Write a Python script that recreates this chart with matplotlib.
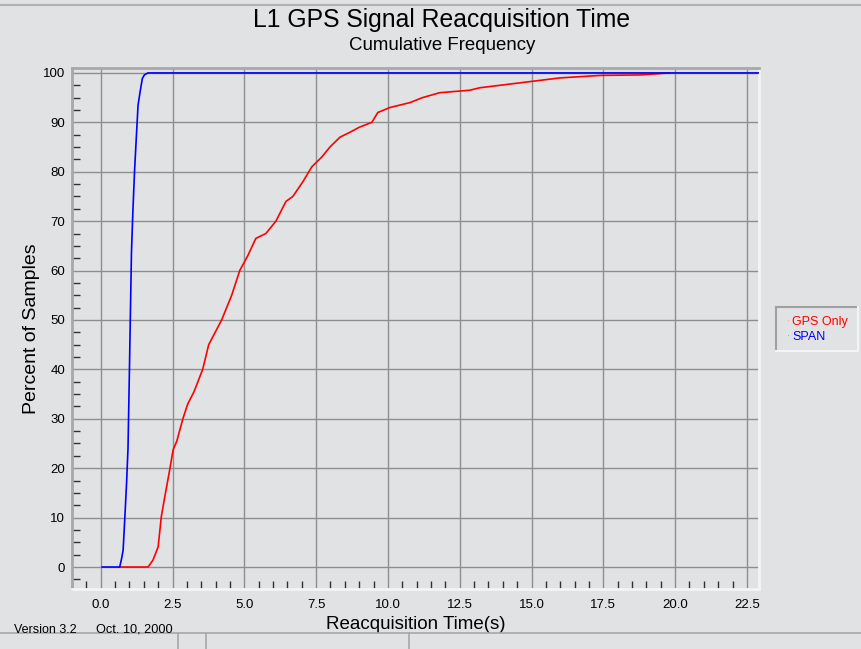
import numpy as np
import matplotlib
matplotlib.use("Agg")
import matplotlib.pyplot as plt
from matplotlib.ticker import MultipleLocator
from matplotlib.lines import Line2D

plt.rcParams['font.family'] = ['Liberation Sans', 'DejaVu Sans']

# data (seconds, percent)
span_t = [0.05, 0.66, 0.72, 0.78, 0.84, 0.90, 0.95, 1.00, 1.07, 1.12, 1.18, 1.24,
          1.30, 1.38, 1.45, 1.52, 1.64, 22.9]
span_pct = [0, 0, 1.5, 3.4, 10, 17, 24, 40, 63.6, 72, 80.4, 87,
            93.5, 96.5, 98.9, 99.6, 100, 100]

gps_t = [0.66, 1.65, 1.82, 2.00, 2.11, 2.23, 2.40, 2.52, 2.65, 2.86, 3.03, 3.25,
         3.55, 3.76, 4.21, 4.56, 4.84, 5.12, 5.40, 5.75, 6.10, 6.45, 6.69, 7.04,
         7.35, 7.70, 7.98, 8.33, 8.68, 9.00, 9.44, 9.65, 10.07, 10.77, 11.2, 11.8,
         12.85, 13.2, 13.9, 14.6, 15.3, 16.0, 17.4, 18.8, 19.8]
gps_pct = [0, 0, 1.4, 4.1, 10.2, 14.2, 19.6, 23.7, 25.5, 30, 33, 35.5,
           40, 45, 50, 55, 60, 63, 66.5, 67.5, 70, 74, 75, 78,
           81, 83, 85, 87, 88, 89, 90, 92, 93, 94, 95, 96,
           96.5, 97, 97.5, 98, 98.5, 99, 99.5, 99.6, 100]

x_ticks = [0.0, 2.5, 5.0, 7.5, 10.0, 12.5, 15.0, 17.5, 20.0, 22.5]
y_ticks = [0, 10, 20, 30, 40, 50, 60, 70, 80, 90, 100]

bg = "#e1e2e4"
fig = plt.figure(figsize=(8.61, 6.49), dpi=100)
fig.patch.set_facecolor(bg)

ax = fig.add_axes([72 / 861, 1 - 589 / 649, 687 / 861, 521 / 649])
ax.set_facecolor(bg)

ax.plot(gps_t, gps_pct, color="#ff0000", lw=1.2, zorder=3)
ax.plot(span_t, span_pct, color="#0000ff", lw=1.2, zorder=4)

ax.set_xlim(-1.0, 22.92)
ax.set_ylim(-4.45, 101)
ax.set_xticks(x_ticks)
ax.set_xticklabels([f"{v:.1f}" for v in x_ticks])
ax.set_yticks(y_ticks)
ax.xaxis.set_minor_locator(MultipleLocator(0.5))
ax.yaxis.set_minor_locator(MultipleLocator(2.5))
ax.tick_params(which="major", length=0, labelsize=9.5, pad=7, colors="#000000")
ax.tick_params(which="minor", direction="in", length=6, width=1, color="#303030")
ax.tick_params(axis="y", which="major", pad=5)
ax.grid(True, which="major", color="#8e8e8e", lw=1.0)
ax.set_axisbelow(True)

for side in ["left", "top"]:
    ax.spines[side].set_color("#a8a8a8")
    ax.spines[side].set_linewidth(2)
for side in ["right", "bottom"]:
    ax.spines[side].set_color("#f4f4f4")
    ax.spines[side].set_linewidth(2)

ax.set_xlabel("Reacquisition Time(s)", fontsize=13.5, labelpad=4)
ax.set_ylabel("Percent of Samples", fontsize=14, labelpad=2)

fig.text(442 / 861, 1 - 20 / 649, "L1 GPS Signal Reacquisition Time", ha="center",
         va="center", fontsize=17.8)
fig.text(442 / 861, 1 - 45 / 649, "Cumulative Frequency", ha="center", va="center",
         fontsize=13.4)
fig.text(14 / 861, 1 - 630 / 649, "Version 3.2", ha="left", va="center", fontsize=9)
fig.text(96 / 861, 1 - 630 / 649, "Oct. 10, 2000", ha="left", va="center", fontsize=9.2)

# legend box
lx0, ly0, lx1, ly1 = 776 / 861, 1 - 351 / 649, 858 / 861, 1 - 307 / 649
fig.add_artist(Line2D([lx0, lx1], [ly1, ly1], color="#a0a0a0", lw=1.5))
fig.add_artist(Line2D([lx0, lx0], [ly0, ly1], color="#a0a0a0", lw=1.5))
fig.add_artist(Line2D([lx1, lx1], [ly0, ly1], color="#f4f4f4", lw=1.5))
fig.add_artist(Line2D([lx0, lx1], [ly0, ly0], color="#f4f4f4", lw=1.5))
fig.text(792 / 861, 1 - 322 / 649, "GPS Only", color="#ff0000", fontsize=9, va="center")
fig.text(792 / 861, 1 - 337 / 649, "SPAN", color="#0000ff", fontsize=9, va="center")
fig.text(787 / 861, 1 - 322 / 649, "·", color="#ff8080", fontsize=6, va="center")
fig.text(787 / 861, 1 - 337 / 649, "·", color="#8080ff", fontsize=6, va="center")

# window frame remnants: top strip and status bar
fig.add_artist(Line2D([0, 1], [1 - 5 / 649, 1 - 5 / 649], color="#b0b0b0", lw=1.5))
fig.add_artist(Line2D([0, 1], [1 - 633 / 649, 1 - 633 / 649], color="#a8a8a8", lw=1.2))
for sx in [178, 206, 409]:
    fig.add_artist(Line2D([sx / 861, sx / 861], [0, 1 - 633 / 649], color="#a8a8a8", lw=1.2))

fig.savefig("out.png", facecolor=fig.get_facecolor())
